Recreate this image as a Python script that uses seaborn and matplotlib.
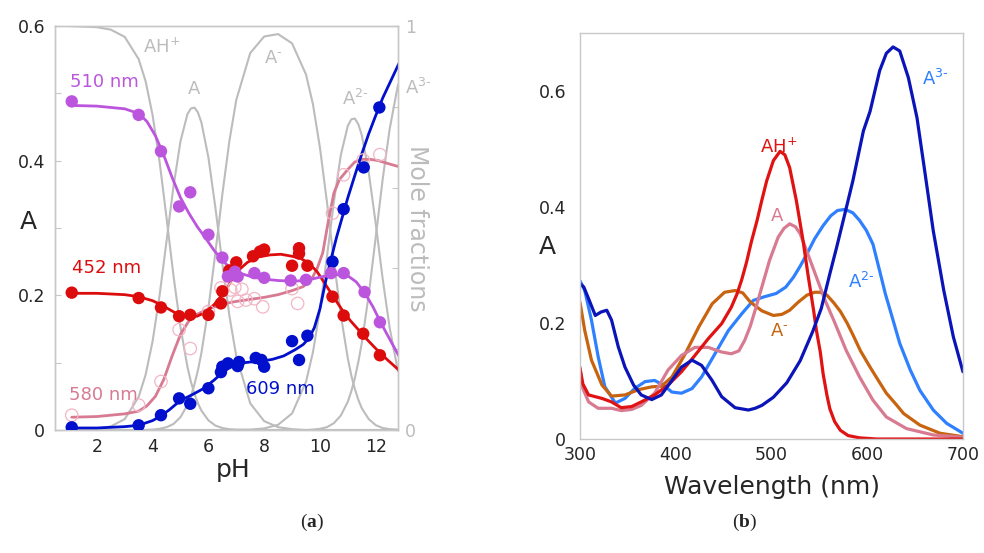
import numpy as np
import matplotlib
matplotlib.use('Agg')
import matplotlib.pyplot as plt
import seaborn as sns

# ---------------- (a) absorbance vs pH ----------------
# gray curves: mole fractions of the species (right axis)
ph_grid = [1.0, 2.0, 2.5, 3.0, 3.5, 3.75, 4.0, 4.25, 4.5, 4.75, 5.0, 5.25, 5.375, 5.5, 5.625, 5.75,
           6.0, 6.25, 6.5, 6.75, 7.0, 7.5, 8.0, 8.5, 9.0, 9.5, 9.75, 10.0, 10.25, 10.5, 10.75, 11.0,
           11.125, 11.25, 11.375, 11.5, 11.75, 12.0, 12.25, 12.5, 12.8]
frac_AH = [1.0, 0.997, 0.991, 0.973, 0.918, 0.863, 0.779, 0.664, 0.525, 0.381, 0.254, 0.156, 0.119,
           0.090, 0.066, 0.048, 0.024, 0.011, 0.005, 0.002, 0.001,
           0, 0, 0, 0, 0, 0, 0, 0, 0, 0, 0, 0, 0, 0, 0, 0, 0, 0, 0, 0]
frac_A = [0.0, 0.003, 0.009, 0.027, 0.082, 0.137, 0.220, 0.333, 0.468, 0.604, 0.715, 0.782, 0.796,
          0.798, 0.786, 0.761, 0.675, 0.551, 0.413, 0.284, 0.183,
          0.066, 0.022, 0.007, 0.002, 0, 0, 0, 0, 0, 0, 0, 0, 0, 0, 0, 0, 0, 0, 0, 0]
frac_Am = [0, 0, 0, 0, 0, 0, 0.001, 0.003, 0.007, 0.015, 0.032, 0.062, 0.084, 0.113, 0.148, 0.191,
           0.301, 0.438, 0.583, 0.714, 0.817,
           0.933, 0.974, 0.980, 0.957, 0.880, 0.806, 0.699, 0.565, 0.419, 0.284, 0.177, 0.135,
           0.102, 0.075, 0.054, 0.027, 0.012, 0.005, 0.002, 0.001]
frac_A2m = [0, 0, 0, 0, 0, 0, 0, 0, 0, 0, 0, 0, 0, 0, 0, 0, 0, 0, 0, 0, 0,
            0.001, 0.004, 0.013, 0.041, 0.119, 0.193, 0.298, 0.428, 0.565, 0.681, 0.753, 0.769,
            0.771, 0.757, 0.730, 0.638, 0.511, 0.374, 0.253, 0.145]
frac_A3m = [0, 0, 0, 0, 0, 0, 0, 0, 0, 0, 0, 0, 0, 0, 0, 0, 0, 0, 0, 0, 0,
            0, 0, 0, 0, 0, 0.001, 0.003, 0.007, 0.017, 0.036, 0.070, 0.096, 0.128, 0.168, 0.215,
            0.335, 0.477, 0.621, 0.745, 0.855]

# measured points
ph_510 = [1.1, 3.5, 4.3, 4.95, 5.35, 6.0, 6.5, 6.7, 6.95, 7.05, 7.65, 8.0, 8.95, 9.5, 10.4, 10.85, 11.6, 12.15]
abs_510 = [0.488, 0.468, 0.414, 0.332, 0.353, 0.290, 0.256, 0.228, 0.235, 0.228, 0.233, 0.226, 0.222,
           0.223, 0.233, 0.233, 0.205, 0.160]
ph_452 = [1.1, 3.5, 4.3, 4.95, 5.35, 6.0, 6.45, 6.5, 6.75, 7.0, 7.6, 7.85, 8.0, 9.0, 9.25, 9.25,
          9.55, 10.45, 10.85, 11.55, 12.15]
abs_452 = [0.204, 0.196, 0.182, 0.169, 0.171, 0.171, 0.188, 0.206, 0.237, 0.249, 0.258, 0.265, 0.268,
           0.244, 0.270, 0.262, 0.244, 0.198, 0.170, 0.143, 0.111]
ph_609 = [1.1, 3.5, 4.3, 4.95, 5.35, 6.0, 6.45, 6.5, 6.7, 7.05, 7.1, 7.7, 7.9, 8.0, 9.0, 9.25, 9.55,
          10.45, 10.85, 11.57, 12.13]
abs_609 = [0.004, 0.007, 0.022, 0.047, 0.039, 0.062, 0.086, 0.094, 0.099, 0.095, 0.101, 0.107, 0.104,
           0.094, 0.132, 0.104, 0.140, 0.250, 0.328, 0.390, 0.479]
ph_580 = [1.1, 3.5, 4.3, 4.95, 5.35, 6.0, 6.45, 6.8, 6.95, 7.05, 7.2, 7.35, 7.65, 7.95, 9.0, 9.2,
          10.45, 10.85, 11.55, 12.15]
abs_580 = [0.022, 0.037, 0.072, 0.149, 0.121, 0.176, 0.211, 0.208, 0.212, 0.191, 0.209, 0.193, 0.195,
           0.183, 0.210, 0.188, 0.322, 0.379, 0.401, 0.409]

# fitted curves
fit_ph_510 = [1.1, 2.0, 3.0, 3.5, 3.8, 4.1, 4.4, 4.7, 5.0, 5.3, 5.6, 5.9, 6.2, 6.5, 6.8, 7.2, 7.6,
              8.0, 8.5, 9.0, 9.5, 10.0, 10.5, 11.0, 11.3, 11.6, 11.9, 12.2, 12.5, 12.83]
fit_abs_510 = [0.482, 0.481, 0.477, 0.470, 0.458, 0.437, 0.408, 0.375, 0.345, 0.322, 0.302, 0.285,
               0.267, 0.252, 0.240, 0.232, 0.227, 0.224, 0.222, 0.221, 0.222, 0.227, 0.231, 0.229,
               0.220, 0.204, 0.183, 0.158, 0.135, 0.110]
fit_ph_452 = [1.1, 2.0, 3.0, 3.5, 4.0, 4.3, 4.6, 4.9, 5.25, 5.6, 5.9, 6.2, 6.5, 6.8, 7.1, 7.4, 7.8,
              8.2, 8.6, 9.0, 9.3, 9.6, 9.9, 10.2, 10.5, 10.8, 11.1, 11.4, 11.7, 12.0, 12.4, 12.83]
fit_abs_452 = [0.203, 0.203, 0.201, 0.198, 0.192, 0.186, 0.179, 0.172, 0.168, 0.169, 0.175, 0.186,
               0.201, 0.220, 0.238, 0.249, 0.257, 0.260, 0.261, 0.258, 0.255, 0.248, 0.235, 0.216,
               0.197, 0.178, 0.162, 0.148, 0.134, 0.121, 0.105, 0.089]
fit_ph_609 = [1.1, 2.0, 3.0, 3.5, 4.0, 4.3, 4.6, 5.0, 5.4, 5.8, 6.2, 6.5, 6.8, 7.1, 7.5, 7.9, 8.3,
              8.7, 9.1, 9.4, 9.6, 9.8, 10.0, 10.2, 10.4, 10.6, 10.8, 11.0, 11.25, 11.5, 11.75, 12.0,
              12.25, 12.5, 12.84]
fit_abs_609 = [0.003, 0.003, 0.005, 0.007, 0.014, 0.021, 0.030, 0.044, 0.052, 0.061, 0.074, 0.085,
               0.094, 0.099, 0.101, 0.102, 0.105, 0.110, 0.119, 0.127, 0.136, 0.152, 0.180, 0.220,
               0.254, 0.287, 0.316, 0.345, 0.378, 0.410, 0.440, 0.467, 0.493, 0.515, 0.545]
fit_ph_580 = [1.1, 2.0, 3.0, 3.5, 3.8, 4.1, 4.4, 4.7, 5.0, 5.3, 5.6, 6.0, 6.5, 7.0, 7.5, 8.0, 8.5,
              9.0, 9.4, 9.7, 9.9, 10.1, 10.3, 10.5, 10.7, 11.0, 11.25, 11.5, 11.8, 12.1, 12.5, 12.84]
fit_abs_580 = [0.019, 0.020, 0.024, 0.028, 0.036, 0.050, 0.075, 0.110, 0.142, 0.162, 0.172, 0.180,
               0.187, 0.191, 0.194, 0.197, 0.201, 0.207, 0.213, 0.224, 0.240, 0.263, 0.310, 0.352,
               0.372, 0.387, 0.398, 0.402, 0.402, 0.400, 0.395, 0.391]

# ---------------- (b) spectra of the species ----------------
wl_AH = [300, 303, 309, 323, 333, 343, 354, 364, 378, 392, 406, 420, 434, 448, 458, 464, 469, 474,
         479, 485, 490, 495, 502, 509, 514, 519, 526, 533, 538, 544, 547, 551, 554, 558, 561, 566,
         572, 580, 592, 610, 640, 700]
spec_AH = [0.122, 0.095, 0.076, 0.070, 0.064, 0.054, 0.056, 0.064, 0.076, 0.093, 0.116, 0.144,
           0.173, 0.199, 0.227, 0.250, 0.275, 0.305, 0.340, 0.377, 0.412, 0.445, 0.480, 0.496,
           0.490, 0.468, 0.411, 0.342, 0.285, 0.222, 0.187, 0.150, 0.112, 0.075, 0.052, 0.030,
           0.015, 0.006, 0.002, 0.0, 0.0, 0.0]
wl_A = [300, 303, 309, 319, 333, 343, 354, 364, 378, 392, 406, 420, 434, 448, 458, 466, 472, 478,
        484, 491, 498, 507, 513, 519, 525, 530, 538, 547, 556, 565, 578, 592, 606, 620, 641, 669, 700]
spec_A = [0.124, 0.087, 0.064, 0.053, 0.053, 0.049, 0.051, 0.058, 0.079, 0.119, 0.144, 0.158,
          0.158, 0.150, 0.147, 0.152, 0.170, 0.195, 0.228, 0.268, 0.308, 0.348, 0.363, 0.371,
          0.366, 0.354, 0.319, 0.279, 0.239, 0.205, 0.153, 0.107, 0.067, 0.038, 0.018, 0.007, 0.003]
wl_Am = [300, 305, 312, 323, 333, 347, 361, 375, 385, 396, 410, 424, 438, 451, 462, 470, 478, 490,
         502, 511, 519, 528, 537, 545, 551, 558, 565, 572, 579, 585, 593, 603, 612, 620, 630, 638,
         655, 676, 700]
spec_Am = [0.236, 0.187, 0.136, 0.093, 0.074, 0.076, 0.085, 0.090, 0.091, 0.107, 0.147, 0.193,
           0.233, 0.253, 0.256, 0.252, 0.236, 0.221, 0.213, 0.215, 0.222, 0.236, 0.248, 0.253,
           0.253, 0.248, 0.235, 0.220, 0.200, 0.180, 0.152, 0.124, 0.100, 0.079, 0.060, 0.044,
           0.024, 0.010, 0.004]
wl_A2m = [300, 305, 312, 319, 326, 337, 347, 357, 368, 378, 387, 396, 406, 417, 427, 441, 455, 469,
          481, 492, 505, 515, 523, 530, 537, 545, 554, 562, 569, 577, 585, 592, 599, 606, 613, 619,
          624, 634, 645, 655, 669, 683, 700]
spec_A2m = [0.273, 0.256, 0.205, 0.142, 0.090, 0.062, 0.070, 0.087, 0.099, 0.101, 0.093, 0.081,
            0.079, 0.087, 0.107, 0.147, 0.187, 0.216, 0.239, 0.245, 0.251, 0.262, 0.279, 0.298,
            0.319, 0.345, 0.368, 0.385, 0.394, 0.396, 0.390, 0.377, 0.360, 0.336, 0.290, 0.250,
            0.222, 0.165, 0.119, 0.084, 0.050, 0.027, 0.010]
wl_A3m = [300, 304, 309, 316, 322, 328, 333, 340, 347, 356, 364, 375, 385, 396, 406, 417, 427, 438,
          448, 462, 476, 483, 490, 502, 516, 530, 543, 552, 561, 568, 575, 585, 596, 603, 613, 620,
          627, 634, 643, 652, 660, 669, 680, 690, 700]
spec_A3m = [0.268, 0.262, 0.242, 0.213, 0.219, 0.222, 0.205, 0.159, 0.124, 0.093, 0.076, 0.068,
            0.076, 0.101, 0.124, 0.136, 0.127, 0.101, 0.073, 0.054, 0.050, 0.053, 0.058, 0.072,
            0.097, 0.135, 0.185, 0.225, 0.285, 0.330, 0.377, 0.445, 0.531, 0.565, 0.635, 0.665,
            0.676, 0.669, 0.623, 0.554, 0.463, 0.359, 0.256, 0.176, 0.116]

GRAY = '#bcbcbc'
SPINE = '#c8c8c8'
C510, C452, C580, C609 = '#bb55dd', '#dd0c0c', '#d77a92', '#0010cc'
C_AH, C_A, C_Am, C_A2m, C_A3m = '#e01212', '#d87a90', '#c8640f', '#2f80ff', '#0b14b8'

sns.set_style('white')
plt.rcParams['font.family'] = ['DejaVu Sans']
plt.rcParams['mathtext.fontset'] = 'custom'
plt.rcParams['mathtext.bf'] = 'Liberation Serif:bold'

fig = plt.figure(figsize=(9.84, 5.53), dpi=100)
ax = fig.add_axes([0.0559, 0.2224, 0.3486, 0.7306])
ax_frac = ax.twinx()
ax.set_zorder(ax_frac.get_zorder() + 1)
ax.patch.set_visible(False)
axb = fig.add_axes([0.5894, 0.2061, 0.3892, 0.7342])

# mole fractions (gray, behind)
for fr in [frac_AH, frac_A, frac_Am, frac_A2m, frac_A3m]:
    sns.lineplot(x=ph_grid, y=fr, ax=ax_frac, color=GRAY, lw=1.5)

# fitted lines
for xs, ys, c in [(fit_ph_580, fit_abs_580, C580), (fit_ph_452, fit_abs_452, C452),
                  (fit_ph_609, fit_abs_609, C609), (fit_ph_510, fit_abs_510, C510)]:
    sns.lineplot(x=xs, y=ys, ax=ax, color=c, lw=2)

# data points
sns.scatterplot(x=ph_580, y=abs_580, ax=ax, s=80, facecolor='none', edgecolor='#f2b6c6',
                linewidth=0.9, zorder=3)
sns.scatterplot(x=ph_452, y=abs_452, ax=ax, s=80, color=C452, edgecolor='none', zorder=4)
sns.scatterplot(x=ph_609, y=abs_609, ax=ax, s=80, color=C609, edgecolor='none', zorder=4)
sns.scatterplot(x=ph_510, y=abs_510, ax=ax, s=80, color=C510, edgecolor='none', zorder=5)

ax.set_xlim(0.5, 12.8)
ax.set_ylim(0, 0.6)
ax_frac.set_ylim(0, 1)
ax.set_xticks(range(2, 13, 2))
ax.set_yticks(np.arange(0, 0.61, 0.1))
ax.set_yticklabels(['0', '', '0.2', '', '0.4', '', '0.6'])
ax_frac.set_yticks(np.arange(0, 1.01, 0.2))
ax_frac.set_yticklabels(['0', '', '', '', '', '1'])
ax.tick_params(axis='y', direction='in', length=4, color=SPINE, labelsize=12.5, pad=7)
ax.tick_params(axis='x', length=0, labelsize=12.5, pad=6)
ax_frac.tick_params(axis='y', direction='in', length=4, color=SPINE, labelcolor=GRAY,
                    labelsize=12.5, pad=5)
ax.set_xlabel('')
ax.set_ylabel('')
ax_frac.set_ylabel('')
for a in (ax, ax_frac, axb):
    for sp in a.spines.values():
        sp.set_color(SPINE)
        sp.set_linewidth(1)

ax.text(-0.079, 0.515, 'A', transform=ax.transAxes, fontsize=18, ha='center', va='center')
ax.text(0.519, -0.099, 'pH', transform=ax.transAxes, fontsize=18, ha='center', va='center')
ax.text(1.055, 0.5, 'Mole fractions', transform=ax.transAxes, fontsize=17, color=GRAY,
        rotation=270, ha='center', va='center')

ax.text(1.05, 0.517, '510 nm', color=C510, fontsize=13, va='center')
ax.text(1.1, 0.241, '452 nm', color=C452, fontsize=13, va='center')
ax.text(1.0, 0.052, '580 nm', color=C580, fontsize=13, va='center')
ax.text(7.35, 0.061, '609 nm', color=C609, fontsize=13, va='center')

ax_frac.text(3.66, 0.948, r'AH$^{+}$', color=GRAY, fontsize=13, va='center')
ax_frac.text(5.5, 0.845, 'A', color=GRAY, fontsize=13, va='center', ha='center')
ax_frac.text(8.0, 0.92, r'A$^{\text{-}}$', color=GRAY, fontsize=13, va='center')
ax_frac.text(10.8, 0.82, r'A$^{2\text{-}}$', color=GRAY, fontsize=13, va='center')
ax_frac.text(13.05, 0.847, r'A$^{3\text{-}}$', color=GRAY, fontsize=13, va='center', clip_on=False)

# ---------------- panel (b) ----------------
for wl, sp, c in [(wl_A2m, spec_A2m, C_A2m), (wl_Am, spec_Am, C_Am), (wl_A, spec_A, C_A),
                  (wl_AH, spec_AH, C_AH), (wl_A3m, spec_A3m, C_A3m)]:
    sns.lineplot(x=wl, y=sp, ax=axb, color=c, lw=2.3)

axb.set_xlim(300, 700)
axb.set_ylim(0, 0.7)
axb.set_xticks(range(300, 701, 50))
axb.set_xticklabels(['300', '', '400', '', '500', '', '600', '', '700'])
axb.set_yticks(np.arange(0, 0.71, 0.1))
axb.set_yticklabels(['0', '', '0.2', '', '0.4', '', '0.6', ''])
axb.tick_params(axis='y', direction='in', length=4, color=SPINE, labelsize=12.5, pad=10)
axb.tick_params(axis='x', direction='in', length=4, color=SPINE, labelsize=12.5, pad=5)
axb.set_xlabel('')
axb.set_ylabel('')
axb.text(-0.084, 0.473, 'A', transform=axb.transAxes, fontsize=18, ha='center', va='center')
axb.text(0.501, -0.118, 'Wavelength (nm)', transform=axb.transAxes, fontsize=18,
         ha='center', va='center')

axb.text(488, 0.504, r'AH$^{+}$', color=C_AH, fontsize=13, va='center')
axb.text(499, 0.385, 'A', color=C_A, fontsize=13, va='center')
axb.text(499, 0.187, r'A$^{\text{-}}$', color=C_Am, fontsize=13, va='center')
axb.text(580, 0.27, r'A$^{2\text{-}}$', color=C_A2m, fontsize=13, va='center')
axb.text(657, 0.621, r'A$^{3\text{-}}$', color=C_A2m, fontsize=13, va='center')

fig.text(312 / 984, 1 - 522 / 553, r'($\mathbf{a}$)', family='Liberation Serif', fontsize=14,
         ha='center', va='center')
fig.text(745 / 984, 1 - 522 / 553, r'($\mathbf{b}$)', family='Liberation Serif', fontsize=14,
         ha='center', va='center')

fig.savefig('out.png', dpi=100)
